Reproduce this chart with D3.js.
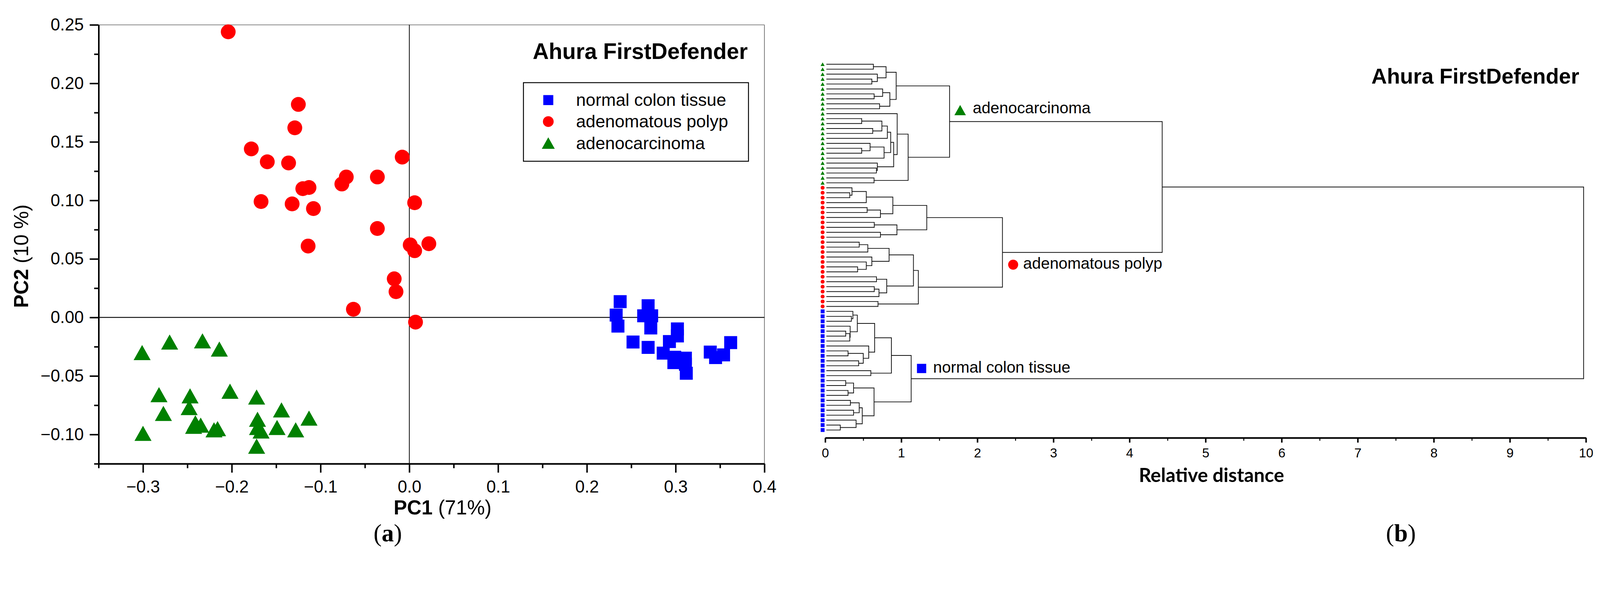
<!DOCTYPE html>
<html>
<head>
<meta charset="utf-8">
<script src="https://cdn.jsdelivr.net/npm/d3@7"></script>
<style>
  html, body { margin: 0; padding: 0; background: #fff; overflow: hidden; }
  svg { display: block; width: 100vw; height: 100vh; }
  text { font-family: "Liberation Sans", Arial, sans-serif; fill: #000; }
</style>
</head>
<body>
<div id="chart"></div>
<script>
// ---- panel (a): PCA scores [PC1, PC2]
var normalTissue = [
  [0.2375, 0.0135], [0.233, 0.002], [0.235, -0.0074], [0.269, 0.010], [0.264, 0.0014],
  [0.273, 0.0014], [0.272, -0.009], [0.252, -0.021], [0.269, -0.0256], [0.302, -0.0098],
  [0.302, -0.0158], [0.293, -0.0206], [0.286, -0.0305], [0.299, -0.034], [0.298, -0.0386],
  [0.311, -0.0348], [0.312, -0.0477], [0.311, -0.040], [0.339, -0.0296], [0.345, -0.0343],
  [0.354, -0.032], [0.362, -0.0215]
];
var adenomatousPolyp = [
  [-0.204, 0.244], [-0.125, 0.182], [-0.129, 0.162], [-0.178, 0.144], [-0.160, 0.133],
  [-0.136, 0.132], [-0.071, 0.120], [-0.076, 0.114], [-0.036, 0.120], [-0.120, 0.110],
  [-0.113, 0.111], [-0.167, 0.099], [-0.132, 0.097], [-0.108, 0.093], [-0.036, 0.076],
  [-0.114, 0.061], [-0.008, 0.137], [0.006, 0.098], [0.001, 0.062], [0.006, 0.057],
  [0.022, 0.063], [-0.017, 0.033], [-0.015, 0.022], [-0.063, 0.007], [0.007, -0.004]
];
var adenocarcinoma = [
  [-0.301, -0.030], [-0.270, -0.021], [-0.233, -0.020], [-0.214, -0.027], [-0.282, -0.066],
  [-0.247, -0.067], [-0.202, -0.063], [-0.172, -0.068], [-0.277, -0.082], [-0.248, -0.077],
  [-0.144, -0.079], [-0.113, -0.086], [-0.241, -0.090], [-0.235, -0.092], [-0.243, -0.093],
  [-0.220, -0.096], [-0.216, -0.095], [-0.171, -0.087], [-0.171, -0.094], [-0.167, -0.097],
  [-0.149, -0.094], [-0.128, -0.096], [-0.300, -0.099], [-0.172, -0.110]
];
var pcaXTicks = [-0.3, -0.2, -0.1, 0.0, 0.1, 0.2, 0.3, 0.4];
var pcaXMinor = [-0.35, -0.25, -0.15, -0.05, 0.05, 0.15, 0.25, 0.35];
var pcaYTicks = [0.25, 0.20, 0.15, 0.10, 0.05, 0.00, -0.05, -0.10];
var pcaYMinor = [0.225, 0.175, 0.125, 0.075, 0.025, -0.025, -0.075, -0.125];

// ---- panel (b): dendrogram, leaves numbered top to bottom, node = [left, right, distance]
var groupNames = ["adenocarcinoma", "adenomatous polyp", "normal colon tissue"];
var leafCounts = [25, 25, 25];
var greenTree = [
  [[[0, 1, 0.633], [2, [3, 4, 0.613], 0.685], 0.80],
   [[5, [6, 7, 0.643], 0.755], [8, 9, 0.715], 0.85], 0.933],
  [[10, [[[[[11, 12, 0.48], [13, 14, 0.625], 0.745], 15, 0.817],
          [[16, [17, 18, 0.48], 0.59], 19, 0.774], 0.861],
         [20, [21, 22, 0.673], 0.685], 0.90], 0.946],
   [23, 24, 0.642], 1.09],
  1.635];
var redTree = [
  [[[[25, [26, 27, 0.323], 0.352], 28, 0.54], [[29, 30, 0.551], 31, 0.726], 0.889],
   [[32, 33, 0.645], [34, 35, 0.726], 0.943], 1.335],
  [[[[[36, 37, 0.447], 38, 0.56], [39, [40, [41, 42, 0.426], 0.54], 0.613], 0.84],
    [[43, 44, 0.674], [[45, 46, 0.645], 47, 0.707], 0.809], 1.16],
   [48, 49, 0.694], 1.224],
  2.33];
var blueTree = [
  [[[[50, [51, 52, 0.344], 0.364], [53, [[54, 55, 0.27], 56, 0.323], 0.328], 0.422],
    [57, [[58, 59, 0.30], [60, 61, 0.44], 0.50], 0.572], 0.65],
   [62, 63, 0.60], 0.87],
  [[[64, 65, 0.27], [66, 67, 0.30], 0.373],
   [[[68, 69, 0.331], [70, 71, 0.373], 0.447], [72, [73, 74, 0.198], 0.406], 0.487], 0.642],
  1.13];
var rootDistances = [4.43, 9.97];
var distTicks = [0, 1, 2, 3, 4, 5, 6, 7, 8, 9, 10];
var distMinor = [0.5, 1.5, 2.5, 3.5, 4.5, 5.5, 6.5, 7.5, 8.5, 9.5];

var colors = {"normal colon tissue": "#0000ff", "adenomatous polyp": "#ff0000", "adenocarcinoma": "#008000"};
var shapes = {"normal colon tissue": "square", "adenomatous polyp": "circle", "adenocarcinoma": "triangle"};

var svg = d3.select("#chart").append("svg")
    .attr("viewBox", "0 0 4316 1554")
    .attr("preserveAspectRatio", "xMidYMin meet");
svg.append("rect").attr("width", 4316).attr("height", 1554).attr("fill", "#fff");

// draws one marker; s = size in px (square side, circle diameter, triangle width)
function marker(g, shape, cx, cy, s, color) {
    if (shape == "square") {
        g.append("rect").attr("x", cx - s / 2).attr("y", cy - s / 2)
            .attr("width", s).attr("height", s).attr("fill", color);
    } else if (shape == "circle") {
        g.append("circle").attr("cx", cx).attr("cy", cy).attr("r", s / 2).attr("fill", color);
    } else {
        var h = s * 0.89;
        g.append("path")
            .attr("d", "M" + cx + "," + (cy - h / 2) + "L" + (cx + s / 2) + "," + (cy + h / 2) +
                       "L" + (cx - s / 2) + "," + (cy + h / 2) + "Z")
            .attr("fill", color);
    }
}

/////////////////////////////////////////////////////////////////
// Panel (a)
var x = d3.scaleLinear().domain([-0.35, 0.4]).range([266, 2062]);
var y = d3.scaleLinear().domain([-0.125, 0.25]).range([1251, 67]);

// frame top/right
svg.append("line").attr("x1", x(-0.35)).attr("x2", x(0.4)).attr("y1", y(0.25)).attr("y2", y(0.25))
    .attr("stroke", "#777").attr("stroke-width", 2);
svg.append("line").attr("x1", x(0.4)).attr("x2", x(0.4)).attr("y1", y(0.25)).attr("y2", y(-0.125))
    .attr("stroke", "#777").attr("stroke-width", 2);

// zero lines
svg.append("line").attr("x1", x(-0.35)).attr("x2", x(0.4)).attr("y1", y(0)).attr("y2", y(0))
    .attr("stroke", "#000").attr("stroke-width", 2.5);
svg.append("line").attr("x1", x(0)).attr("x2", x(0)).attr("y1", y(0.25)).attr("y2", y(-0.125))
    .attr("stroke", "#000").attr("stroke-width", 2);

function styleAxis(g, size) {
    g.attr("font-family", "'Liberation Sans', Arial, sans-serif").attr("font-size", size);
    g.selectAll("path.domain").attr("stroke", "#000").attr("stroke-width", 4);
    g.selectAll(".tick line").attr("stroke", "#000").attr("stroke-width", 4);
    g.selectAll(".tick text").attr("fill", "#000");
}

var yAxis = svg.append("g").attr("transform", "translate(" + x(-0.35) + ",0)")
    .call(d3.axisLeft(y).tickValues(pcaYTicks).tickSize(24).tickSizeOuter(0)
        .tickPadding(16).tickFormat(d3.format(".2f")));
styleAxis(yAxis, 46);
var yMinor = svg.append("g").attr("transform", "translate(" + x(-0.35) + ",0)")
    .call(d3.axisLeft(y).tickValues(pcaYMinor).tickSize(12).tickSizeOuter(0).tickFormat(""));
styleAxis(yMinor, 46);

var xAxis = svg.append("g").attr("transform", "translate(0," + y(-0.125) + ")")
    .call(d3.axisBottom(x).tickValues(pcaXTicks).tickSize(24).tickSizeOuter(0)
        .tickPadding(21).tickFormat(d3.format(".1f")));
styleAxis(xAxis, 46);
var xMinor = svg.append("g").attr("transform", "translate(0," + y(-0.125) + ")")
    .call(d3.axisBottom(x).tickValues(pcaXMinor).tickSize(12).tickSizeOuter(0).tickFormat(""));
styleAxis(xMinor, 46);

// points
var pts = svg.append("g");
normalTissue.forEach(d => marker(pts, "square", x(d[0]), y(d[1]), 35, colors["normal colon tissue"]));
adenomatousPolyp.forEach(d => marker(pts, "circle", x(d[0]), y(d[1]), 40, colors["adenomatous polyp"]));
adenocarcinoma.forEach(d => marker(pts, "triangle", x(d[0]), y(d[1]), 46, colors["adenocarcinoma"]));

// title + legend
svg.append("text").attr("x", 2017).attr("y", 159).attr("text-anchor", "end")
    .attr("font-size", 60).attr("font-weight", "bold").text("Ahura FirstDefender");

svg.append("rect").attr("x", 1412).attr("y", 223).attr("width", 607).attr("height", 212)
    .attr("fill", "none").attr("stroke", "#000").attr("stroke-width", 2.5);
var legendOrder = ["normal colon tissue", "adenomatous polyp", "adenocarcinoma"];
var legendSizes = {"square": 27, "circle": 29, "triangle": 35};
legendOrder.forEach((name, i) => {
    var cy = 270 + i * 58;
    marker(svg, shapes[name], 1479, cy, legendSizes[shapes[name]], colors[name]);
    svg.append("text").attr("x", 1554).attr("y", cy + 16).attr("font-size", 47).text(name);
});

// axis titles
var pc1 = svg.append("text").attr("x", 1194).attr("y", 1388).attr("text-anchor", "middle").attr("font-size", 54);
pc1.append("tspan").attr("font-weight", "bold").text("PC1");
pc1.append("tspan").text(" (71%)");

var pc2 = svg.append("text").attr("transform", "translate(76,691) rotate(-90)")
    .attr("text-anchor", "middle").attr("font-size", 54);
pc2.append("tspan").attr("font-weight", "bold").text("PC2");
pc2.append("tspan").text(" (10 %)");

/////////////////////////////////////////////////////////////////
// Panel (b)
var dx = d3.scaleLinear().domain([0, 10]).range([2226, 4278]);
var dy = d3.scaleLinear().domain([0, 74]).range([173.3, 1160]);

function leafGroup(i) {
    var acc = 0;
    for (var k = 0; k < leafCounts.length; k++) {
        acc += leafCounts[k];
        if (i < acc) return groupNames[k];
    }
}

var treeData = [[greenTree, redTree, rootDistances[0]], blueTree, rootDistances[1]];
var root = d3.hierarchy(treeData, d => Array.isArray(d) ? [d[0], d[1]] : null);
root.eachAfter(n => {
    if (n.children) {
        n.py = (n.children[0].py + n.children[1].py) / 2;
        n.px = dx(n.data[2]);
    } else {
        n.py = dy(n.data);
        n.px = dx(0.015);
    }
});

svg.append("g").selectAll("path")
    .data(root.descendants().filter(n => n.children))
    .enter().append("path")
    .attr("d", n => {
        var a = n.children[0], b = n.children[1];
        return "M" + a.px + "," + a.py + "H" + n.px + "V" + b.py + "H" + b.px;
    })
    .attr("fill", "none")
    .attr("stroke", "#111")
    .attr("stroke-width", 2);

var leafMarks = svg.append("g");
root.leaves().forEach(n => {
    var g = leafGroup(n.data);
    marker(leafMarks, shapes[g], dx(0) - 7, n.py, shapes[g] == "triangle" ? 11 : 10.5, colors[g]);
});

var dAxis = svg.append("g").attr("transform", "translate(0,1181)")
    .call(d3.axisBottom(dx).tickValues(distTicks).tickSize(13).tickSizeOuter(0).tickPadding(15));
styleAxis(dAxis, 35);
dAxis.attr("font-family", "Lato, 'Open Sans', sans-serif");
var dMinor = svg.append("g").attr("transform", "translate(0,1181)")
    .call(d3.axisBottom(dx).tickValues(distMinor).tickSize(8).tickSizeOuter(0).tickFormat(""));
styleAxis(dMinor, 35);
dMinor.selectAll(".tick line").attr("stroke-width", 2.5);

svg.append("text").attr("x", 3268).attr("y", 1300).attr("text-anchor", "middle")
    .style("font-family", "Lato, 'Open Sans', sans-serif")
    .attr("font-size", 52).attr("font-weight", "bold").text("Relative distance");

svg.append("text").attr("x", 4260).attr("y", 225).attr("text-anchor", "end")
    .attr("font-size", 58).attr("font-weight", "bold").text("Ahura FirstDefender");

// cluster labels
var clusterLabels = [
    {name: "adenocarcinoma", mx: 2590, my: 297, size: 31, tx: 2624, ty: 306},
    {name: "adenomatous polyp", mx: 2733, my: 714, size: 27, tx: 2760, ty: 725},
    {name: "normal colon tissue", mx: 2486, my: 994, size: 25, tx: 2517, ty: 1005}
];
clusterLabels.forEach(c => {
    marker(svg, shapes[c.name], c.mx, c.my, c.size, colors[c.name]);
    svg.append("text").attr("x", c.tx).attr("y", c.ty).attr("font-size", 43).text(c.name);
});

// panel letters
[["a", 1046], ["b", 3779]].forEach(p => {
    var t = svg.append("text").attr("x", p[1]).attr("y", 1460).attr("text-anchor", "middle")
        .style("font-family", "'Liberation Serif', 'DejaVu Serif', serif").attr("font-size", 66);
    t.append("tspan").text("(");
    t.append("tspan").attr("font-weight", "bold").text(p[0]);
    t.append("tspan").text(")");
});
</script>
</body>
</html>
